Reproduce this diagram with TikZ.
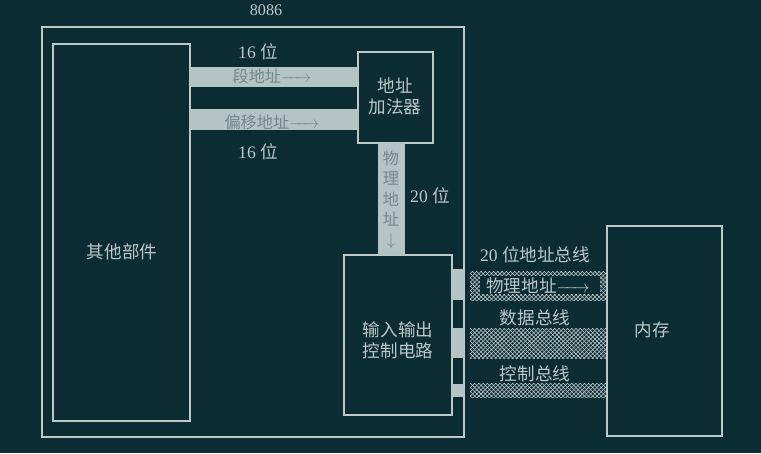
\documentclass[tikz,border=0pt]{standalone}
\usepackage{amsmath}
\usepackage{fontspec}
\setmainfont{Liberation Serif}
\newfontfamily\cjk{Noto Sans CJK SC}
\usetikzlibrary{patterns}

\definecolor{bgteal}{RGB}{12,44,52}
\definecolor{lineg}{RGB}{186,200,200}
\definecolor{bandg}{RGB}{180,195,195}
\definecolor{bandtxt}{RGB}{118,136,138}

\newcommand{\busarrow}{$\xrightarrow{\hspace{1.3em}}$}

\tikzset{
  blk/.style={draw=lineg, line width=1.1pt, inner sep=0pt, outer sep=0pt},
  lbl/.style={text=lineg, font=\cjk\fontsize{12.5}{15}\selectfont, inner sep=1pt},
  btxt/.style={text=bandtxt, font=\cjk\fontsize{11.5}{13}\selectfont, inner sep=1pt},
  band/.style={fill=bandg},
  hatch/.style={pattern=crosshatch, pattern color=lineg},
}

\begin{document}
\begin{tikzpicture}[x=0.025cm,y=-0.025cm]
    \fill[bgteal] (0,0) rectangle (761,453);
    \useasboundingbox (0,0) rectangle (761,453);
    % boxes
    \node[blk, minimum width=10.55cm, minimum height=10.25cm] (cpu) at (253,232) {};
    \node[blk, minimum width=3.425cm, minimum height=9.425cm] (other) at (121.5,232.5) {};
    \node[blk, minimum width=1.875cm, minimum height=2.275cm] (adder) at (395.5,97.5) {};
    \node[blk, minimum width=2.7cm, minimum height=4cm] (io) at (398,335) {};
    \node[blk, minimum width=2.875cm, minimum height=5.25cm] (mem) at (664.5,331) {};
    \node[lbl, font=\rmfamily\fontsize{11.5}{13}\selectfont] (cpulbl) at (266,10) {8086};
    \node[lbl] (otherlbl) at (122,252) {其他部件};
    \node[lbl, align=center] (adderlbl) at (395,96) {地址\\加法器};
    \node[lbl, align=center] (iolbl) at (398,340) {输入输出\\控制电路};
    \node[lbl] (memlbl) at (652,330) {内存};
    % internal buses
    \fill[band] (other.east |- 0,67) rectangle (adder.west |- 0,87);
    \fill[band] (other.east |- 0,109) rectangle (adder.west |- 0,130);
    \fill[band] (adder.south -| 378,0) rectangle (io.north -| 405,0);
    \node[btxt] (seg) at (272,76) {段地址\busarrow};
    \node[btxt] (off) at (272,122) {偏移地址\busarrow};
    \node[btxt, align=center, font=\cjk\fontsize{11.5}{14.5}\selectfont] (phys) at (391,200) {物\\理\\地\\址\\$\downarrow$};
    \node[lbl] (w1) at (258,52) {\rmfamily 16 \cjk 位};
    \node[lbl] (w2) at (258,152) {\rmfamily 16 \cjk 位};
    \node[lbl] (w3) at (430,196) {\rmfamily 20 \cjk 位};
    % stubs through the 8086 edge
    \fill[band] (io.east |- 0,269) rectangle (cpu.east |- 0,300);
    \fill[band] (io.east |- 0,328) rectangle (cpu.east |- 0,358);
    \fill[band] (io.east |- 0,384) rectangle (cpu.east |- 0,397);
    % system buses
    \fill[hatch] ([xshift=0.15cm]cpu.east |- 0,271) rectangle (mem.west |- 0,300);
    \fill[bgteal] (480,276) rectangle (600,294);
    \fill[hatch] ([xshift=0.15cm]cpu.east |- 0,328) rectangle (mem.west |- 0,358);
    \fill[hatch] ([xshift=0.15cm]cpu.east |- 0,383) rectangle (mem.west |- 0,397);
    \node[lbl] (abus) at (535,255) {\rmfamily 20 \cjk 位地址总线};
    \node[lbl] (paddr) at (538,286) {物理地址\busarrow};
    \node[lbl] (dbus) at (535,318) {数据总线};
    \node[lbl] (cbus) at (535,374) {控制总线};
\end{tikzpicture}
\end{document}
